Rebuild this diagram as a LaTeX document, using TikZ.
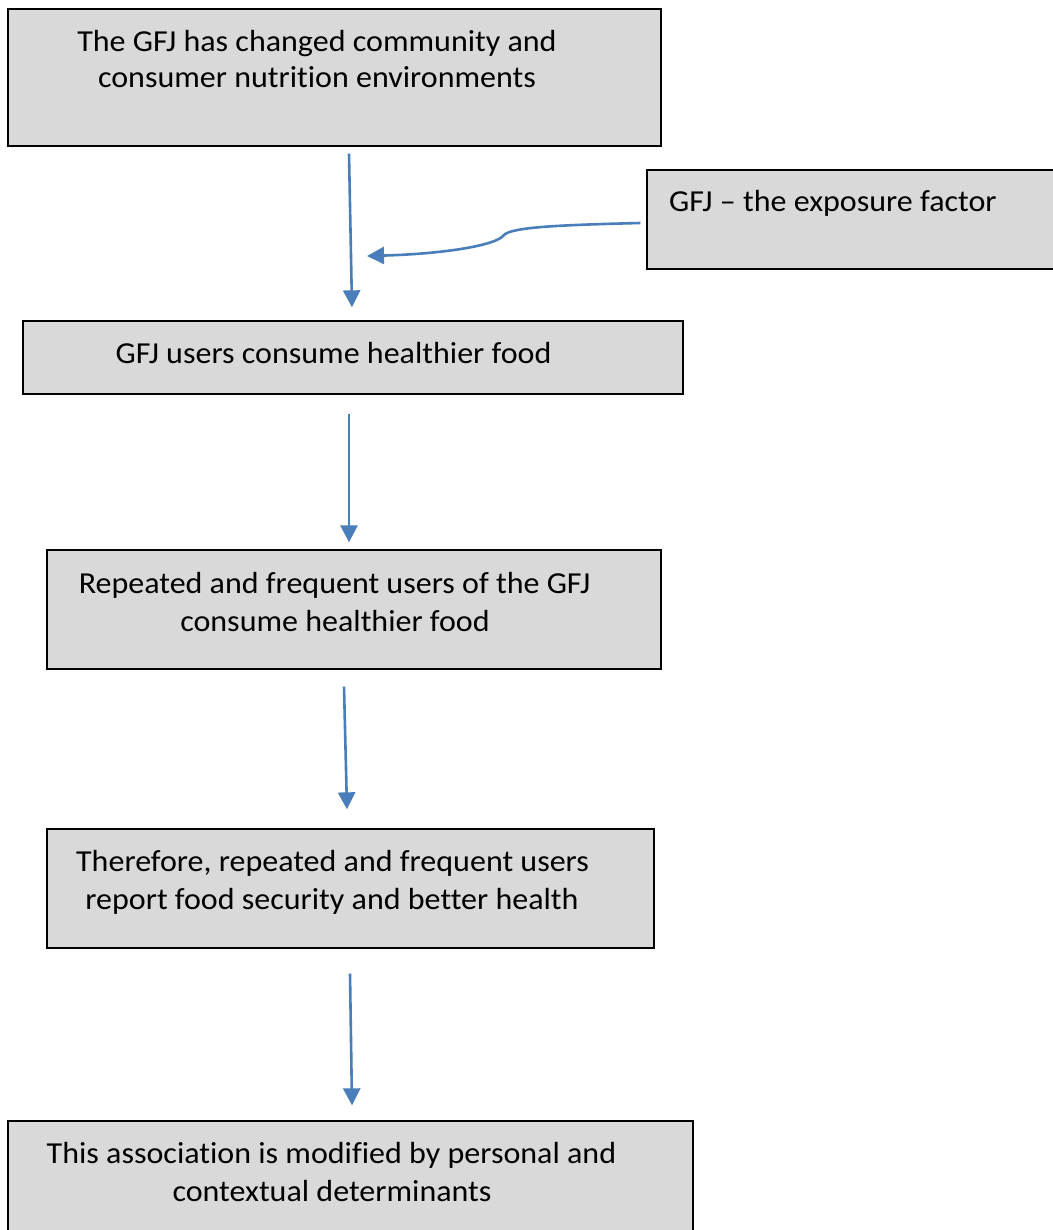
\documentclass[tikz,border=0pt]{standalone}
\usepackage{fontspec}
\setmainfont{Carlito}[FakeStretch=1.05, Ligatures={NoCommon}]
\usetikzlibrary{arrows.meta,calc}
\definecolor{boxgray}{HTML}{D9D9D9}
\definecolor{arrowblue}{HTML}{4A7EBB}
\tikzset{
  box/.style={draw=black, line width=1.3pt, fill=boxgray, inner sep=0pt, minimum width=#1},
  txt/.style={inner sep=0pt, anchor=base, font=\fontsize{30.5}{36}\selectfont},
  txtl/.style={inner sep=0pt, anchor=base west, font=\fontsize{30.5}{36}\selectfont},
  flow/.style={draw=arrowblue, line width=2.6pt, -{Triangle[length=17pt,width=17pt]}}
}
\begin{document}
\begin{tikzpicture}[x=1pt,y=-1pt]
\useasboundingbox (0,0) rectangle (1052,1230);
\fill[white] (0,0) rectangle (1052,1230);
% boxes
\node[box=653pt, minimum height=137pt] (b1) at (334.5,77.5) {};
\node[box=415pt, minimum height=99pt] (b2) at (854.5,219.5) {};
\node[box=660pt, minimum height=73pt] (b3) at (353,357.5) {};
\node[box=614pt, minimum height=119pt] (b4) at (354,609.5) {};
\node[box=607pt, minimum height=119pt] (b5) at (350.5,888.5) {};
\node[box=685pt, minimum height=119pt] (b6) at (350.5,1180.5) {};
% texts
\node[txt] (t1a) at (317,51.5) {The GFJ has changed community and};
\node[txt] (t1b) at (317,87.5) {consumer nutrition environments};
\node[txtl] (t2) at (669,212) {GFJ – the exposure factor};
\node[txt] (t3) at (333.5,363) {GFJ users consume healthier food};
\node[txt] (t4a) at (334.5,593) {Repeated and frequent users of the GFJ};
\node[txt] (t4b) at (335,631) {consume healthier food};
\node[txt] (t5a) at (332.5,871) {Therefore, repeated and frequent users};
\node[txt] (t5b) at (332,909) {report food security and better health};
\node[txt] (t6a) at (331.5,1163) {This association is modified by personal and};
\node[txt] (t6b) at (332,1201) {contextual determinants};
% connectors
\coordinate (join) at (367,256);
\draw[flow] ($(b1.south)+(14.5,7)$) -- ($(b3.north)+(-1,-13)$);
\draw[flow] ($(b2.west)+(-6,3.5)$) .. controls (560,225) and (512,227) .. (504,235)
  .. controls (496,246) and (440,254) .. (join);
\draw[flow] ($(b3.south)+(-4,19)$) -- ($(b4.north)+(-5,-7)$);
\draw[flow] ($(b4.south)+(-10,17)$) -- ($(b5.north)+(-3.5,-19)$);
\draw[flow] ($(b5.south)+(-0.5,25)$) -- ($(b6.north)+(1.5,-15)$);
\end{tikzpicture}
\end{document}
